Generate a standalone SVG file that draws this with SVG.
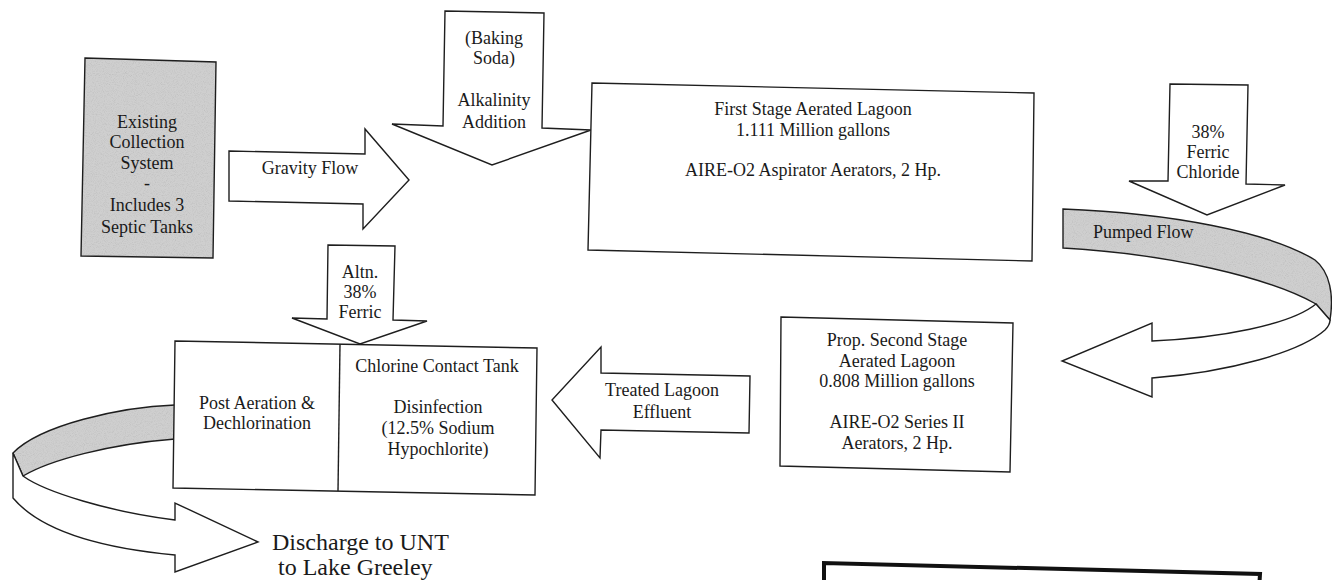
<svg xmlns="http://www.w3.org/2000/svg" width="1332" height="580" viewBox="0 0 1332 580">
<defs>
<filter id="grain" x="-5%" y="-5%" width="110%" height="110%">
<feTurbulence type="fractalNoise" baseFrequency="1.1" numOctaves="1" seed="4" result="n"/>
<feColorMatrix in="n" type="matrix" values="0.33 0.33 0.33 0 0 0.33 0.33 0.33 0 0 0.33 0.33 0.33 0 0 0 0 0 0 1" result="g"/>
<feComponentTransfer in="g" result="g2">
<feFuncR type="linear" slope="0.6" intercept="0.68"/>
<feFuncG type="linear" slope="0.6" intercept="0.68"/>
<feFuncB type="linear" slope="0.6" intercept="0.68"/>
</feComponentTransfer>
<feBlend in="SourceGraphic" in2="g2" mode="multiply" result="b"/>
<feComposite in="b" in2="SourceGraphic" operator="in"/>
</filter>
</defs>
<style>
.ln{fill:#fff;stroke:#1e1e1e;stroke-width:1.4;stroke-linejoin:miter}
.gy{fill:#cfcfcf;stroke:none;filter:url(#grain)}
.go{fill:none;stroke:#1e1e1e;stroke-width:1.4}
.t{font-family:"Liberation Serif","Times New Roman",serif;font-size:18px;fill:#1a1a1a;text-anchor:middle}
.big{font-size:24px;text-anchor:start}
.thick{fill:none;stroke:#111;stroke-width:4}
</style>
<rect width="1332" height="580" fill="#fff"/>

<g id="connectors">
<g id="gravity-flow">
<polygon class="ln" points="229,151 365,154 365,129 409,180 363,229 363,204 229,201"/>
<text class="t" x="310" y="174">Gravity Flow</text>
</g>
<g id="treated-effluent">
<polygon class="ln" points="750,376 749,433 601,430 600,458 552,400 601,347 601,373"/>
<text class="t" x="662" y="396">Treated Lagoon</text>
<text class="t" x="662" y="418">Effluent</text>
</g>
<g id="pumped-flow">
<path class="gy" d="M1063,209 C1170,213 1270,232 1315,260 C1330,272 1334,295 1330,320 L1316,304 C1270,278 1170,254 1063,248 Z"/>
<path class="go" d="M1063,209 C1170,213 1270,232 1315,260 C1330,272 1334,295 1330,320 L1316,304 C1270,278 1170,254 1063,248 Z"/>
<path class="ln" d="M1316,304 C1290,325 1220,338 1152,341 L1152,323 L1062,361 L1152,397 L1152,378 C1230,372 1300,352 1325,330 C1329,326 1330,322 1330,320 Z"/>
<text class="t" x="1093" y="238" style="text-anchor:start">Pumped Flow</text>
</g>
<g id="discharge">
<path class="gy" d="M175,405 C120,407 40,425 13,453 L23,476 C50,460 110,444 175,439 Z"/>
<path class="go" d="M175,405 C120,407 40,425 13,453 L23,476 C50,460 110,444 175,439"/>
<path class="ln" d="M13,453 L23,476 C45,492 110,512 175,520 L175,503 L258,542 L175,572 L175,555 C100,548 40,530 13,498 Z"/>
<text class="t big" x="272" y="550">Discharge to UNT</text>
<text class="t big" x="278" y="575">to Lake Greeley</text>
</g>
<g id="alkalinity-addition">
<polygon class="ln" points="445,11 544,13 542,128 591,130 492,165 392,124 443,126"/>
<text class="t" x="494" y="44">(Baking</text>
<text class="t" x="494" y="64">Soda)</text>
<text class="t" x="494" y="106">Alkalinity</text>
<text class="t" x="494" y="128">Addition</text>
</g>
<g id="ferric-chloride">
<polygon class="ln" points="1170,84 1248,85 1246,184 1285,185 1207,215 1129,181 1168,181"/>
<text class="t" x="1208" y="138">38%</text>
<text class="t" x="1208" y="158">Ferric</text>
<text class="t" x="1208" y="178">Chloride</text>
</g>
<g id="alt-ferric">
<polygon class="ln" points="328,245 395,246 393,320 427,321 360,344 292,318 327,319"/>
<text class="t" x="360" y="278">Altn.</text>
<text class="t" x="360" y="298">38%</text>
<text class="t" x="360" y="318">Ferric</text>
</g>
</g>

<g id="collection-system">
<polygon class="gy" points="85,58 216,62 213,258 81,256"/>
<polygon class="go" points="85,58 216,62 213,258 81,256"/>
<text class="t" x="147" y="128">Existing</text>
<text class="t" x="147" y="148">Collection</text>
<text class="t" x="147" y="169">System</text>
<text class="t" x="147" y="189">-</text>
<text class="t" x="147" y="211">Includes 3</text>
<text class="t" x="147" y="233">Septic Tanks</text>
</g>

<g id="first-stage-lagoon">
<polygon class="ln" points="592,83 1034,93 1032,261 588,250"/>
<text class="t" x="813" y="115">First Stage Aerated Lagoon</text>
<text class="t" x="813" y="136">1.111 Million gallons</text>
<text class="t" x="813" y="176">AIRE-O2 Aspirator Aerators, 2 Hp.</text>
</g>

<g id="second-stage-lagoon">
<polygon class="ln" points="781,317 1013,323 1010,472 780,466"/>
<text class="t" x="897" y="346">Prop. Second Stage</text>
<text class="t" x="897" y="367">Aerated Lagoon</text>
<text class="t" x="897" y="387">0.808 Million gallons</text>
<text class="t" x="897" y="428">AIRE-O2 Series II</text>
<text class="t" x="897" y="449">Aerators, 2 Hp.</text>
</g>

<g id="chlorine-contact-tank">
<polygon class="ln" points="175,341 537,348 535,495 173,488"/>
<line class="go" x1="340" y1="344" x2="338" y2="491"/>
<text class="t" x="257" y="409">Post Aeration &amp;</text>
<text class="t" x="257" y="429">Dechlorination</text>
<text class="t" x="437" y="372">Chlorine Contact Tank</text>
<text class="t" x="438" y="413">Disinfection</text>
<text class="t" x="438" y="434">(12.5% Sodium</text>
<text class="t" x="438" y="455">Hypochlorite)</text>
</g>

<g id="legend-box">
<path class="thick" d="M824,590 L824,563 L1260,574 L1259,590"/>
</g>
</svg>
